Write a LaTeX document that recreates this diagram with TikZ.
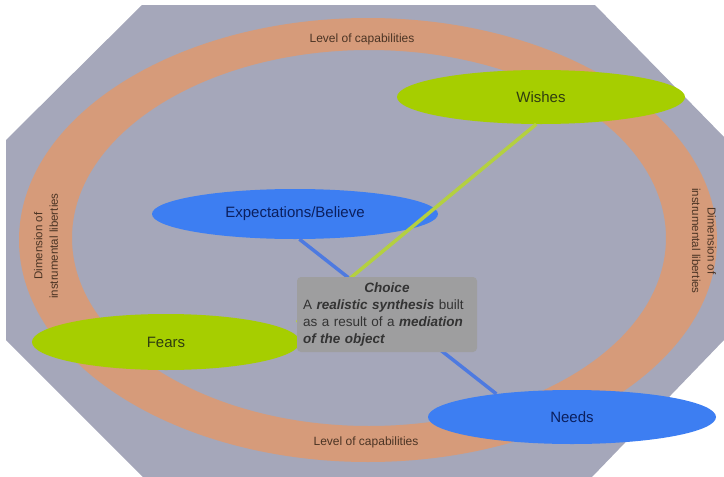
\documentclass[tikz,border=0pt]{standalone}
\usepackage{fontspec}
\setmainfont{Liberation Sans}
\usepackage{xcolor}
\usepackage{tikz}
\usetikzlibrary{shapes.geometric,backgrounds}
\pgfdeclarelayer{front}
\pgfsetlayers{background,main,front}
\definecolor{plate}{HTML}{A5A7BA}
\definecolor{band}{HTML}{D69B7A}
\definecolor{wishgreen}{HTML}{A6CE00}
\definecolor{needblue}{HTML}{3D7EF2}
\definecolor{greentext}{HTML}{2F3D10}
\definecolor{bluetext}{HTML}{0B1F5E}
\definecolor{bandtext}{HTML}{4B3424}
\definecolor{boxgray}{HTML}{9E9E9F}
\definecolor{greenline}{HTML}{B4D040}
\definecolor{blueline}{HTML}{4E7AE0}
\tikzset{
  blob/.style={ellipse, inner sep=0pt, minimum width=288pt, minimum height=54pt, font=\fontsize{15}{18}\selectfont},
  hope/.style={blob, fill=wishgreen, text=greentext},
  fact/.style={blob, fill=needblue, text=bluetext},
  lvl/.style={font=\fontsize{12}{14}\selectfont, text=bandtext},
  dim/.style={align=center, font=\fontsize{11.5}{15.5}\selectfont, text=bandtext},
  hub/.style={rectangle, rounded corners=4pt, fill=boxgray, text=black!80, minimum height=75pt, text width=168pt, inner xsep=6pt, align=left, font=\fontsize{13.5}{16.7}\selectfont},
  wline/.style={line width=3.5pt, greenline},
  bline/.style={line width=3.5pt, blueline}
}

\begin{document}
\begin{tikzpicture}[x=1pt,y=-1pt]
\useasboundingbox (0,0) rectangle (724,477);
% frame and capability band
\fill[plate] (142,5) -- (595,5) -- (724,137) -- (724,340) -- (592,477) -- (143,477) -- (6,340) -- (6,140) -- cycle;
\fill[band, even odd rule] (368,240) ellipse [x radius=349, y radius=222]
  (369,238) ellipse [x radius=297, y radius=188];
\node[lvl] (captop) at (362,39) {Level of capabilities};
\node[lvl] (capbot) at (366,442) {Level of capabilities};
\node[dim, rotate=90] (dimleft) at (46,246) {Dimension of\\instrumental liberties};
\node[dim, rotate=-90] (dimright) at (704,241) {Dimension of\\instrumental liberties};
% the four poles
\node[hope] (wish) at (541,97) {Wishes};
\node[fact, minimum width=286pt, minimum height=50pt] (expect) at (295,214) {Expectations/Believe};
\node[hope, minimum width=268pt, minimum height=56pt] (fear) at (166,342) {Fears};
\node[fact] (need) at (572,417) {Needs};
\begin{pgfonlayer}{front}
\node[hub] (choice) at (387,314.5) {\makebox[\linewidth]{\bfseries\itshape Choice}\\
A \textbf{\textit{realistic synthesis}} built\\
as a result of a \textbf{\textit{mediation}}\\
\textbf{\textit{of the object}}};
\end{pgfonlayer}
\draw[bline] (expect.-80) -- (need.163);
\draw[wline] (wish.-100) -- (choice.185);
\end{tikzpicture}
\end{document}
